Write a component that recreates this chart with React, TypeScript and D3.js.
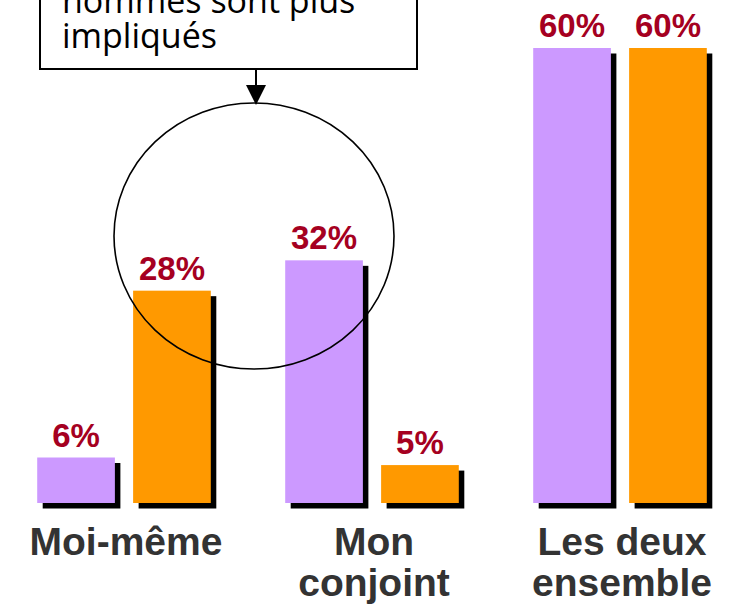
import React, { useRef, useEffect } from "react";
import * as d3 from "d3";

const categories = ["Moi-même", "Mon conjoint", "Les deux ensemble"];
const categoryLines = [["Moi-même"], ["Mon", "conjoint"], ["Les deux", "ensemble"]];
const series = ["femmes", "hommes"];
const femmesValues = [6, 32, 60];
const hommesValues = [28, 5, 60];
const calloutLines = ["hommes sont plus", "impliqués"];

const colors = { femmes: "#CC99FF", hommes: "#FF9900" };

const App = () => {
  const chartRef = useRef(null);

  useEffect(() => {
    const width = 731;
    const height = 604;
    const baseline = 503;
    const shadow = 5.5;

    const svg = d3
      .select(chartRef.current)
      .append("svg")
      .attr("width", width)
      .attr("height", height)
      .style("position", "absolute")
      .style("left", 0)
      .style("top", 0)
      .style("background", "#fff");

    const x0 = d3
      .scaleBand()
      .domain(categories)
      .range([0, 744])
      .paddingInner(0.3)
      .paddingOuter(0.15);

    const x1 = d3
      .scaleBand()
      .domain(series)
      .range([0, x0.bandwidth()])
      .paddingInner(0.19);

    const y = d3.scaleLinear().domain([0, 60]).range([baseline, 48]);

    const data = categories.flatMap((cat, i) => [
      { cat, key: "femmes", value: femmesValues[i] },
      { cat, key: "hommes", value: hommesValues[i] },
    ]);

    const bars = svg
      .selectAll(".bar")
      .data(data)
      .enter()
      .append("g")
      .attr("class", "bar")
      .attr("transform", (d) => `translate(${x0(d.cat) + x1(d.key)},0)`);

    // black drop shadow
    bars
      .append("rect")
      .attr("x", shadow)
      .attr("y", (d) => y(d.value) + shadow)
      .attr("width", x1.bandwidth())
      .attr("height", (d) => baseline - y(d.value))
      .attr("fill", "#000");

    bars
      .append("rect")
      .attr("x", 0)
      .attr("y", (d) => y(d.value))
      .attr("width", x1.bandwidth())
      .attr("height", (d) => baseline - y(d.value))
      .attr("fill", (d) => colors[d.key]);

    bars
      .append("text")
      .attr("x", x1.bandwidth() / 2)
      .attr("y", (d) => y(d.value) - 11)
      .attr("text-anchor", "middle")
      .style("font-family", "'Liberation Sans', Arial, sans-serif")
      .style("font-weight", "bold")
      .style("font-size", "33px")
      .attr("fill", "#A50021")
      .text((d) => `${d.value}%`);

    // category labels
    const labels = svg
      .selectAll(".cat")
      .data(categories)
      .enter()
      .append("text")
      .attr("class", "cat")
      .attr("text-anchor", "middle")
      .attr("transform", (d) => `translate(${x0(d) + x0.bandwidth() / 2 + 2},555)`)
      .style("font-family", "'Liberation Sans', Arial, sans-serif")
      .style("font-weight", "bold")
      .style("font-size", "39px")
      .attr("fill", "#333333");

    labels
      .selectAll("tspan")
      .data((d, i) => categoryLines[i])
      .enter()
      .append("tspan")
      .attr("x", 0)
      .attr("dy", (d, i) => (i === 0 ? 0 : 41))
      .text((d) => d);

    // callout box
    svg
      .append("rect")
      .attr("x", 40)
      .attr("y", -60)
      .attr("width", 377)
      .attr("height", 129)
      .attr("fill", "#fff")
      .attr("stroke", "#000")
      .attr("stroke-width", 2);

    svg
      .append("text")
      .style("font-family", "'Open Sans', sans-serif")
      .style("font-size", "34px")
      .attr("fill", "#000")
      .selectAll("tspan")
      .data(calloutLines)
      .enter()
      .append("tspan")
      .attr("x", 62)
      .attr("y", (d, i) => 13 + i * 35)
      .text((d) => d);

    // arrow
    svg
      .append("line")
      .attr("x1", 256)
      .attr("x2", 256)
      .attr("y1", 69)
      .attr("y2", 88)
      .attr("stroke", "#000")
      .attr("stroke-width", 2);

    svg
      .append("path")
      .attr("d", d3.line()([[246, 85], [266, 85], [256, 105]]) + "Z")
      .attr("fill", "#000");

    // highlight ellipse
    svg
      .append("ellipse")
      .attr("cx", 254)
      .attr("cy", 236)
      .attr("rx", 140)
      .attr("ry", 133)
      .attr("fill", "none")
      .attr("stroke", "#000")
      .attr("stroke-width", 1.6);

    return () => {
      if (chartRef.current) chartRef.current.innerHTML = "";
    };
  }, []);

  return <div ref={chartRef}></div>;
};

export default App;
